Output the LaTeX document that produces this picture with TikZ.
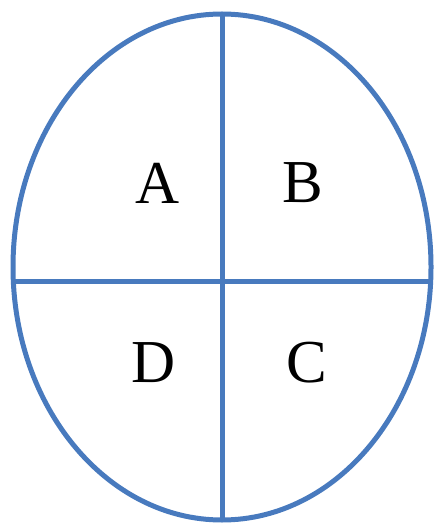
\documentclass[tikz,border=0pt]{standalone}
\usepackage{fontspec}
\setmainfont{Liberation Serif}
\usepackage{tikz}
\usetikzlibrary{positioning, calc}
\definecolor{eggblue}{RGB}{72,122,190}

\begin{document}
\begin{tikzpicture}[x=1pt, y=-1pt]
\useasboundingbox (0,0) rectangle (436,526);
% Egg outline
\coordinate (ctr) at (222,267);
\draw[eggblue, line width=5pt] (ctr) ellipse [x radius=209, y radius=253];

% Cross lines
\coordinate (top) at (222,14);
\coordinate (bot) at (222,520);
\coordinate (lft) at (13.3,281);
\coordinate (rgt) at (430.7,281);
\draw[eggblue, line width=5pt] (top) -- (bot);
\draw[eggblue, line width=5pt] (lft) -- (rgt);

% Quarter labels
\node[font=\fontsize{61}{67}\selectfont] (qa) at (158,183) {A};
\node[font=\fontsize{61}{67}\selectfont] (qb) at (303,183) {B};
\node[font=\fontsize{61}{67}\selectfont] (qd) at (154,363) {D};
\node[font=\fontsize{61}{67}\selectfont] (qc) at (307,363) {C};

\end{tikzpicture}
\end{document}
